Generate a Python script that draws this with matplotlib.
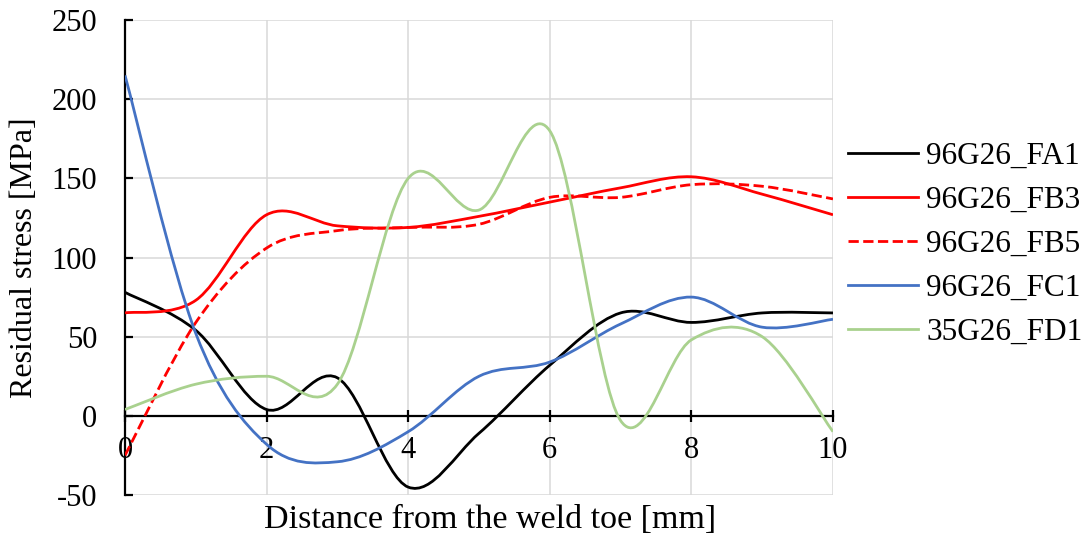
import matplotlib
matplotlib.use("Agg")
from matplotlib import pyplot as plt
from matplotlib.path import Path
from matplotlib.patches import PathPatch
from matplotlib.lines import Line2D
import numpy as np

plt.rcParams['font.family'] = ['Liberation Serif', 'DejaVu Serif']
plt.rcParams['axes.unicode_minus'] = False

# distance from the weld toe [mm]
dist = [0, 1, 2, 3, 4, 5, 6, 7, 8, 9, 10]

# residual stress [MPa]
fa1 = [78, 54, 4, 24, -45, -11, 32, 65, 59, 65, 65]
fb3 = [65, 73, 127, 120, 119, 126, 135, 144, 151, 140, 127]
fb5 = [-25, 59, 106, 117, 119, 121, 138, 138, 146, 145, 137]
fc1 = [215, 52, -18, -29, -10, 25, 34, 58, 75, 56, 61]
fd1 = [4, 20, 25, 20, 150, 130, 180, -3, 48, 50, -10]

labels = ['96G26_FA1', '96G26_FB3', '96G26_FB5', '96G26_FC1', '35G26_FD1']
colors = ['black', '#FF0000', '#FF0000', '#4472C4', '#A9D18E']
styles = ['-', '-', '--', '-', '-']


def smooth_path(xs, ys):
    # Excel style smoothed line: cubic bezier through the points
    p = np.column_stack([xs, ys]).astype(float)
    ext = np.vstack([p[0], p, p[-1]])
    verts = [p[0]]
    codes = [Path.MOVETO]
    for i in range(len(p) - 1):
        c1 = p[i] + (ext[i + 2] - ext[i]) / 6.0
        c2 = p[i + 1] - (ext[i + 3] - ext[i + 1]) / 6.0
        verts += [c1, c2, p[i + 1]]
        codes += [Path.CURVE4] * 3
    return Path(verts, codes)


fig = plt.figure(figsize=(10.91, 5.38), dpi=100)
ax = fig.add_axes([0.1146, 0.0799, 0.6489, 0.8829])

handles = []
for ys, lab, c, ls in zip([fa1, fb3, fb5, fc1, fd1], labels, colors, styles):
    patch = PathPatch(smooth_path(dist, ys), facecolor='none', edgecolor=c,
                      linestyle=ls, linewidth=2.0, zorder=3, capstyle='butt')
    ax.add_patch(patch)
    handles.append(Line2D([], [], color=c, linestyle=ls, linewidth=2.0, label=lab))

ax.set_xlim(0, 10)
ax.set_ylim(-50, 250)
ax.set_xticks([0, 2, 4, 6, 8, 10])
ax.set_yticks([-50, 0, 50, 100, 150, 200, 250])

ax.grid(True, color='#D9D9D9', linewidth=1.1)
ax.set_axisbelow(True)

ax.spines['top'].set_visible(False)
ax.spines['right'].set_visible(False)
ax.spines['bottom'].set_position(('data', 0))
ax.spines['bottom'].set_linewidth(1.6)
ax.spines['left'].set_linewidth(1.6)

ax.tick_params(axis='x', direction='inout', length=9, width=1.6, pad=10, labelsize=22)
ax.tick_params(axis='y', direction='in', length=6, width=1.6, pad=20, labelsize=22)

ax.set_xlabel('Distance from the weld toe [mm]', fontsize=24.5)
ax.xaxis.set_label_coords(0.515, -0.02)
ax.xaxis.label.set_verticalalignment('top')
ax.set_ylabel('Residual stress [MPa]', fontsize=23)
ax.yaxis.set_label_coords(-0.122, 0.5)

fig.legend(handles=handles, loc='center left', bbox_to_anchor=(0.7773, 0.5465),
           frameon=False, fontsize=22.5, handlelength=2.25, handletextpad=0.25,
           labelspacing=0.48, borderpad=0, borderaxespad=0)

fig.savefig('out.png', dpi=100)
